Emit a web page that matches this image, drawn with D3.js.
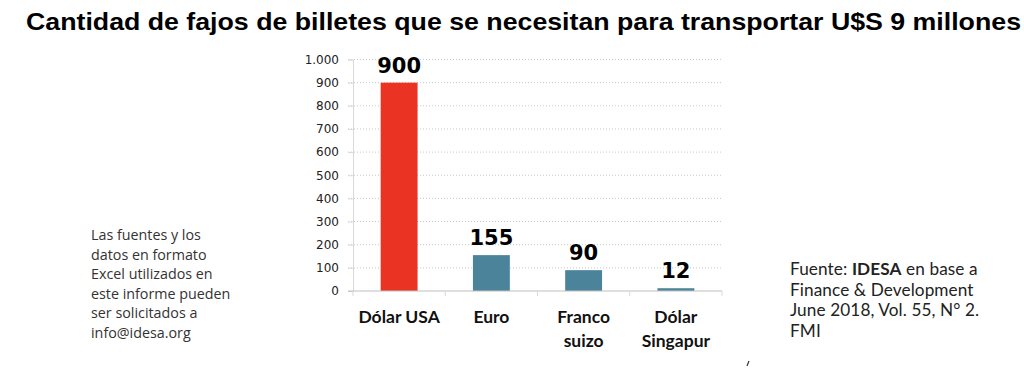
<!DOCTYPE html>
<html><head><meta charset="utf-8">
<script src="https://cdn.jsdelivr.net/npm/d3@7"></script>
<style>body{margin:0;background:#fff}</style>
</head><body>
<script>
const categories = [["Dólar USA"], ["Euro"], ["Franco", "suizo"], ["Dólar", "Singapur"]];
const values = [900, 155, 90, 12];
const barColors = ["#EA3323", "#4B849A", "#4B849A", "#4B849A"];
const yTicks = [0, 100, 200, 300, 400, 500, 600, 700, 800, 900, 1000];
const title = "Cantidad de fajos de billetes que se necesitan para transportar U$S 9 millones";
const leftNote = ["Las fuentes y los", "datos en formato", "Excel utilizados en", "este informe pueden", "ser solicitados a", "info@idesa.org"];
const rightNote = [["Fuente: ", "IDESA", " en base a"], ["Finance & Development"], ["June 2018, Vol. 55, N° 2."], ["FMI"]];

const W = 1024, H = 368;
const svg = d3.select("body").append("svg").attr("width", W).attr("height", H);

// title
svg.append("text").attr("x", 26).attr("y", 30)
  .attr("font-family", "Liberation Sans, Arial, sans-serif").attr("font-weight", "bold")
  .attr("font-size", 24.5).attr("fill", "#000")
  .attr("textLength", 995).attr("lengthAdjust", "spacingAndGlyphs")
  .text(title);

const keys = categories.map((c, i) => i);
const x = d3.scaleBand().domain(keys).range([353, 722]).padding(0);
const y = d3.scaleLinear().domain([0, 1000]).range([291, 59.5]);

// gridlines
const fmt = d => d3.format(",")(d).replace(/,/g, ".");
svg.append("g").selectAll("line").data(yTicks.filter(d => d > 0)).join("line")
  .attr("x1", 348).attr("x2", 722).attr("y1", d => y(d)).attr("y2", d => y(d))
  .attr("stroke", "#c8c8c8").attr("stroke-width", 1).attr("stroke-dasharray", "1,2");

// y axis
const yAxis = d3.axisLeft(y).tickValues(yTicks).tickFormat(fmt).tickSize(5).tickPadding(9);
const gy = svg.append("g").attr("transform", "translate(353,0)").call(yAxis);
gy.select(".domain").attr("stroke", "#d9d9d9");
gy.selectAll(".tick line").attr("stroke", "#d9d9d9");
gy.selectAll(".tick text").attr("font-family", "DejaVu Sans, Verdana, sans-serif")
  .attr("font-size", 12).attr("fill", "#222");

// bars
svg.append("g").selectAll("rect").data(values).join("rect")
  .attr("x", (d, i) => x(i) + x.bandwidth() * 0.3)
  .attr("width", x.bandwidth() * 0.4)
  .attr("y", d => y(d)).attr("height", d => y(0) - y(d))
  .attr("fill", (d, i) => barColors[i]);

// x axis
svg.append("line").attr("x1", 348).attr("x2", 722).attr("y1", y(0)).attr("y2", y(0))
  .attr("stroke", "#bfbfbf").attr("stroke-width", 1.2);
const xTickPos = keys.map(k => x(k)).concat([x.range()[1]]);
svg.append("g").selectAll("line").data(xTickPos).join("line")
  .attr("x1", d => d).attr("x2", d => d).attr("y1", y(0)).attr("y2", y(0) + 5)
  .attr("stroke", "#d9d9d9");

// category labels
categories.forEach((lines, i) => {
  lines.forEach((l, j) => svg.append("text").attr("text-anchor", "middle")
    .attr("font-family", "Lato, Open Sans, sans-serif").attr("font-weight", "bold")
    .attr("font-size", 17.5).attr("fill", "#111")
    .attr("x", x(i) + x.bandwidth() / 2).attr("y", 322.5 + j * 24).text(l));
});

// value labels
svg.append("g").selectAll("text").data(values).join("text")
  .attr("x", (d, i) => x(i) + x.bandwidth() / 2).attr("y", d => y(d) - 10)
  .attr("text-anchor", "middle").attr("font-family", "DejaVu Sans, Verdana, sans-serif")
  .attr("font-weight", "bold").attr("font-size", 21).attr("fill", "#000")
  .text(d => d);

// left note
leftNote.forEach((l, j) => svg.append("text").attr("font-family", "Open Sans, Lato, sans-serif")
  .attr("font-size", 14.3).attr("fill", "#333")
  .attr("x", 91).attr("y", 240 + j * 19.5).text(l));

// right note
rightNote.forEach((parts, j) => {
  const t = svg.append("text").attr("font-family", "Lato, Open Sans, sans-serif")
    .attr("font-size", 17.2).attr("letter-spacing", 0.1).attr("fill", "#222")
    .attr("x", 790).attr("y", 275 + j * 20.7);
  parts.forEach(p => {
    const ts = t.append("tspan").text(p);
    if (p === "IDESA") ts.attr("font-weight", "bold");
  });
});

// small stray mark at bottom
svg.append("line").attr("x1", 747).attr("y1", 366).attr("x2", 749).attr("y2", 361)
  .attr("stroke", "#333").attr("stroke-width", 1.2);
</script>
</body></html>
